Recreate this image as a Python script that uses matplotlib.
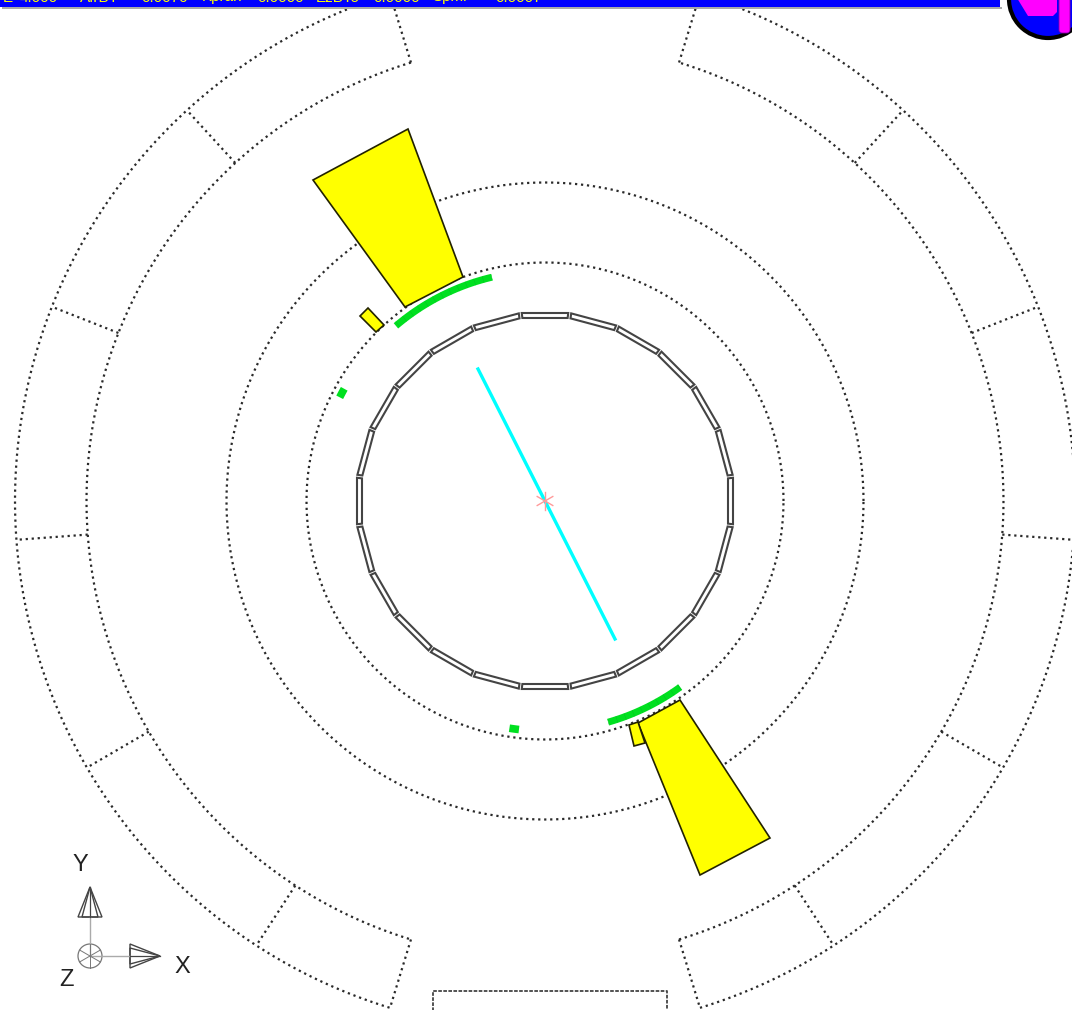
import numpy as np
import matplotlib
matplotlib.use("Agg")
import matplotlib.pyplot as plt
from matplotlib.patches import Polygon, Circle, Rectangle, FancyBboxPatch

# event display, all lengths in screen px around the beam spot
center = (545, 501)
W, H = 1072, 1010

ring_radii = [238.5, 318.5]
outer_radii = [458.5, 530]
# outer barrel arcs and module boundaries (deg)
outer_arcs = [(107, 253), (-73, 73)]
outer_cuts = [107, 132.5, 158.5, 184.2, 210.2, 237, 253, -73, -57, -30.2, -4.2, 21.5, 47.5, 73]

stave_in, stave_out = 183, 188
stave_angles = np.arange(0, 360, 15)

yellow_big = [[(408, 129), (313, 180), (405, 307), (463, 277)],
              [(680, 700), (770, 838), (700, 875), (638, 723)]]
yellow_small = [[(360, 316), (368, 308), (384, 325), (376, 332)],
                [(629, 725), (638, 722), (645, 743), (634, 746)]]

# green hits on r = 230: strips (deg) and two single cells
green_r = 230
green_strips = [(103.4, 130.4), (-74, -54)]
green_hits = [152, 262.3]

track = [(478, 369), (615, 639)]
bottom_box = [(433, 1012), (433, 991), (667, 991), (667, 1012)]
bar_words = ["E", "4.000", "AIrBT", "0.0076", "Kpran", "0.0000", "EzBTo", "0.0000", "Spmr", "0.0007"]
bar_starts = [3, 20, 80, 141, 202, 257, 316, 373, 432, 495]


def pol(r, a):
    a = np.radians(a)
    return center[0] + r*np.cos(a), center[1] - r*np.sin(a)


fig = plt.figure(figsize=(W/100, H/100), dpi=100)
ax = fig.add_axes([0, 0, 1, 1])
ax.set_xlim(0, W)
ax.set_ylim(H, 0)
ax.axis("off")

dots = dict(color="#2a2a2a", lw=1.6, ls=(0, (1, 1.7)), dash_capstyle="butt")

for r in ring_radii:
    t = np.linspace(0, 360, 721)
    ax.plot(*pol(r, t), **dots)

for a0, a1 in outer_arcs:
    t = np.linspace(a0, a1, 300)
    for r in outer_radii:
        ax.plot(*pol(r, t), **dots)
for a in outer_cuts:
    x0, y0 = pol(outer_radii[0], a)
    x1, y1 = pol(outer_radii[1], a)
    ax.plot([x0, x1], [y0, y1], **dots)

xs, ys = zip(*bottom_box)
ax.plot(xs, ys, color="#444444", lw=1.3, ls=(0, (2, 0.8)))

# 24 staves
half = 7.05
k = 1/np.cos(np.radians(half))
for a in stave_angles:
    pts = [pol(stave_in*k, a-half), pol(stave_out*k, a-half),
           pol(stave_out*k, a+half), pol(stave_in*k, a+half)]
    ax.add_patch(Polygon(pts, closed=True, fc="white", ec="#444444", lw=1.5, zorder=3))

for pts in yellow_big + yellow_small:
    ax.add_patch(Polygon(pts, closed=True, fc="#ffff00", ec="#222200", lw=1.2, zorder=4))

for a0, a1 in green_strips:
    t = np.linspace(a0, a1, 30)
    ax.plot(*pol(green_r, t), color="#00e020", lw=5, solid_capstyle="butt", zorder=5)
    for a in np.arange(min(a0, a1), max(a0, a1), 2.2):
        x0, y0 = pol(green_r-3, a)
        x1, y1 = pol(green_r+3, a)
        ax.plot([x0, x1], [y0, y1], color="#00c820", lw=0.4, zorder=5)
for a in green_hits:
    t = np.linspace(a-1.2, a+1.2, 5)
    ax.plot(*pol(green_r, t), color="#00e020", lw=5.5, solid_capstyle="butt", zorder=5)

ax.plot([track[0][0], track[1][0]], [track[0][1], track[1][1]], color="#00ffff", lw=2.4, zorder=6)

# vertex star
for a in (30, 90, 150):
    x0, y0 = pol(9, a)
    x1, y1 = pol(-9, a)
    ax.plot([x0, x1], [y0, y1], color="#ff9a9a", lw=1.0, zorder=7)

# top bar and logo
ax.add_patch(Rectangle((2, 7), 1000, 2, fc="#aaaaaa", ec="none", zorder=8))
ax.add_patch(Rectangle((0, -2), 1000, 9, fc="#0000ff", ec="none", zorder=9))
for word, x in zip(bar_words, bar_starts):
    ax.text(x, 1.5, word, family="Liberation Sans", fontsize=11, color="#ffff00", va="baseline", zorder=10)
ax.add_patch(Circle((1048, -1), 39, fc="#0000ff", ec="black", lw=3, zorder=8))
ax.add_patch(Polygon([(1017, -2), (1028, 16), (1053, 16), (1057, 12), (1057, -2)], closed=True, fc="#ff00ff", ec="none", zorder=9))
ax.add_patch(FancyBboxPatch((1059, -20), 11, 53, boxstyle="round,pad=0,rounding_size=3", fc="#ff00ff", ec="#8800aa", lw=0.6, zorder=9))

# axes triad
ox, oy = 90, 956
ax.plot([ox, ox], [oy, 917], color="#aaaaaa", lw=1)
ax.plot([ox, 130], [oy, oy], color="#aaaaaa", lw=1)
for w in (12, 8):
    ax.add_patch(Polygon([(90, 887), (90-w, 917), (90+w, 917)], closed=True, fc="none", ec="#444444", lw=1))
    ax.add_patch(Polygon([(160, 956), (130, 956-w), (130, 956+w)], closed=True, fc="none", ec="#444444", lw=1))
ax.plot([90, 90], [887, 917], color="#444444", lw=0.9)
ax.plot([130, 160], [956, 956], color="#444444", lw=0.9)
ax.add_patch(Circle((ox, oy), 12, fc="white", ec="#777777", lw=0.9))
for a in (30, 90, 150):
    x0, y0 = ox+12*np.cos(np.radians(a)), oy-12*np.sin(np.radians(a))
    x1, y1 = ox-12*np.cos(np.radians(a)), oy+12*np.sin(np.radians(a))
    ax.plot([x0, x1], [y0, y1], color="#777777", lw=0.7)

for label, x, y in (("Y", 80, 865), ("X", 182, 967), ("Z", 67, 980)):
    ax.text(x, y, label, family="Liberation Sans", fontsize=17, ha="center", va="center", color="#222222")

fig.savefig("out.png", dpi=100)
